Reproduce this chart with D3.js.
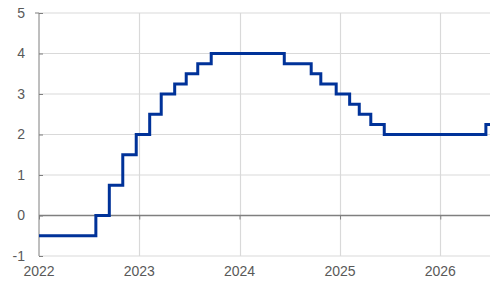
<!DOCTYPE html>
<html><head><meta charset="utf-8">
<script src="https://cdn.jsdelivr.net/npm/d3@7"></script>
<style>html,body{margin:0;padding:0;background:#fff;}svg{display:block;}</style>
</head><body><svg id="c" width="490" height="282"></svg>
<script>
const stepDates = ["2022-01-01","2022-07-27","2022-09-14","2022-11-02","2022-12-21","2023-02-08","2023-03-22","2023-05-10","2023-06-21","2023-08-02","2023-09-20","2024-06-12","2024-09-18","2024-10-23","2024-12-18","2025-02-05","2025-03-12","2025-04-23","2025-06-11","2026-06-16"];
const rateValues = [-0.5,0,0.75,1.5,2.0,2.5,3.0,3.25,3.5,3.75,4.0,3.75,3.5,3.25,3.0,2.75,2.5,2.25,2.0,2.25];
const endDate = "2026-07-01";
const yTicks = [-1,0,1,2,3,4,5];
const xTickYears = [2022,2023,2024,2025,2026];

const parse = d3.timeParse("%Y-%m-%d");
const svg = d3.select("#c");
const x = d3.scaleTime().domain([parse("2022-01-01"), parse(endDate)]).range([39, 490]);
const y = d3.scaleLinear().domain([-1,5]).range([256, 13]);

const grid = "#d9d9d9";
const font = "Liberation Sans, Arial, sans-serif";
// horizontal gridlines
svg.append("g").selectAll("line").data(yTicks.filter(v=>v!==0)).join("line")
  .attr("x1", 39).attr("x2", 490).attr("y1", d=>y(d)).attr("y2", d=>y(d))
  .attr("stroke", grid).attr("stroke-width", 1);
// vertical gridlines
svg.append("g").selectAll("line").data(xTickYears.slice(1)).join("line")
  .attr("x1", d=>Math.round(x(new Date(d,0,1)))+0.5).attr("x2", d=>Math.round(x(new Date(d,0,1)))+0.5)
  .attr("y1", y(5)).attr("y2", y(-1))
  .attr("stroke", grid).attr("stroke-width", 1.2);

// y axis (ticks inside)
const yAxis = d3.axisLeft(y).tickValues(yTicks).tickSize(-4).tickPadding(14).tickFormat(d=>String(d));
const gy = svg.append("g").attr("transform","translate(39,0)").call(yAxis);
gy.select(".domain").attr("stroke","#7f7f7f").attr("d", `M-4,${y(5)}H0V${y(-1)}H-0`);
gy.selectAll(".tick line").attr("stroke","#7f7f7f");
gy.selectAll(".tick text").attr("fill","#595959").style("font-family",font).style("font-size","14px");

// zero axis with year ticks
const xAxis = d3.axisBottom(x).tickValues(xTickYears.map(v=>new Date(v,0,1))).tickSize(4).tickFormat("");
const gx = svg.append("g").attr("transform",`translate(0,${y(0)})`).call(xAxis);
gx.select(".domain").attr("stroke","#7f7f7f").attr("stroke-width",1.3).attr("d", `M39,0H490`);
gx.selectAll(".tick line").attr("stroke","#7f7f7f");

// year labels at bottom
svg.append("g").selectAll("text").data(xTickYears).join("text")
  .attr("x", d=>x(new Date(d,0,1))).attr("y", 276)
  .attr("text-anchor","middle").attr("fill","#595959")
  .style("font-family",font).style("font-size","14px")
  .text(d=>d);

// step line
const pts = stepDates.map((d,i)=>({date:parse(d), v:rateValues[i]}));
pts.push({date:parse(endDate), v:rateValues[rateValues.length-1]});
const line = d3.line().x(d=>x(d.date)).y(d=>y(d.v)).curve(d3.curveStepAfter);
svg.append("path").datum(pts).attr("d", line)
  .attr("fill","none").attr("stroke","#003299").attr("stroke-width",3).attr("stroke-linejoin","miter");
</script></body></html>
